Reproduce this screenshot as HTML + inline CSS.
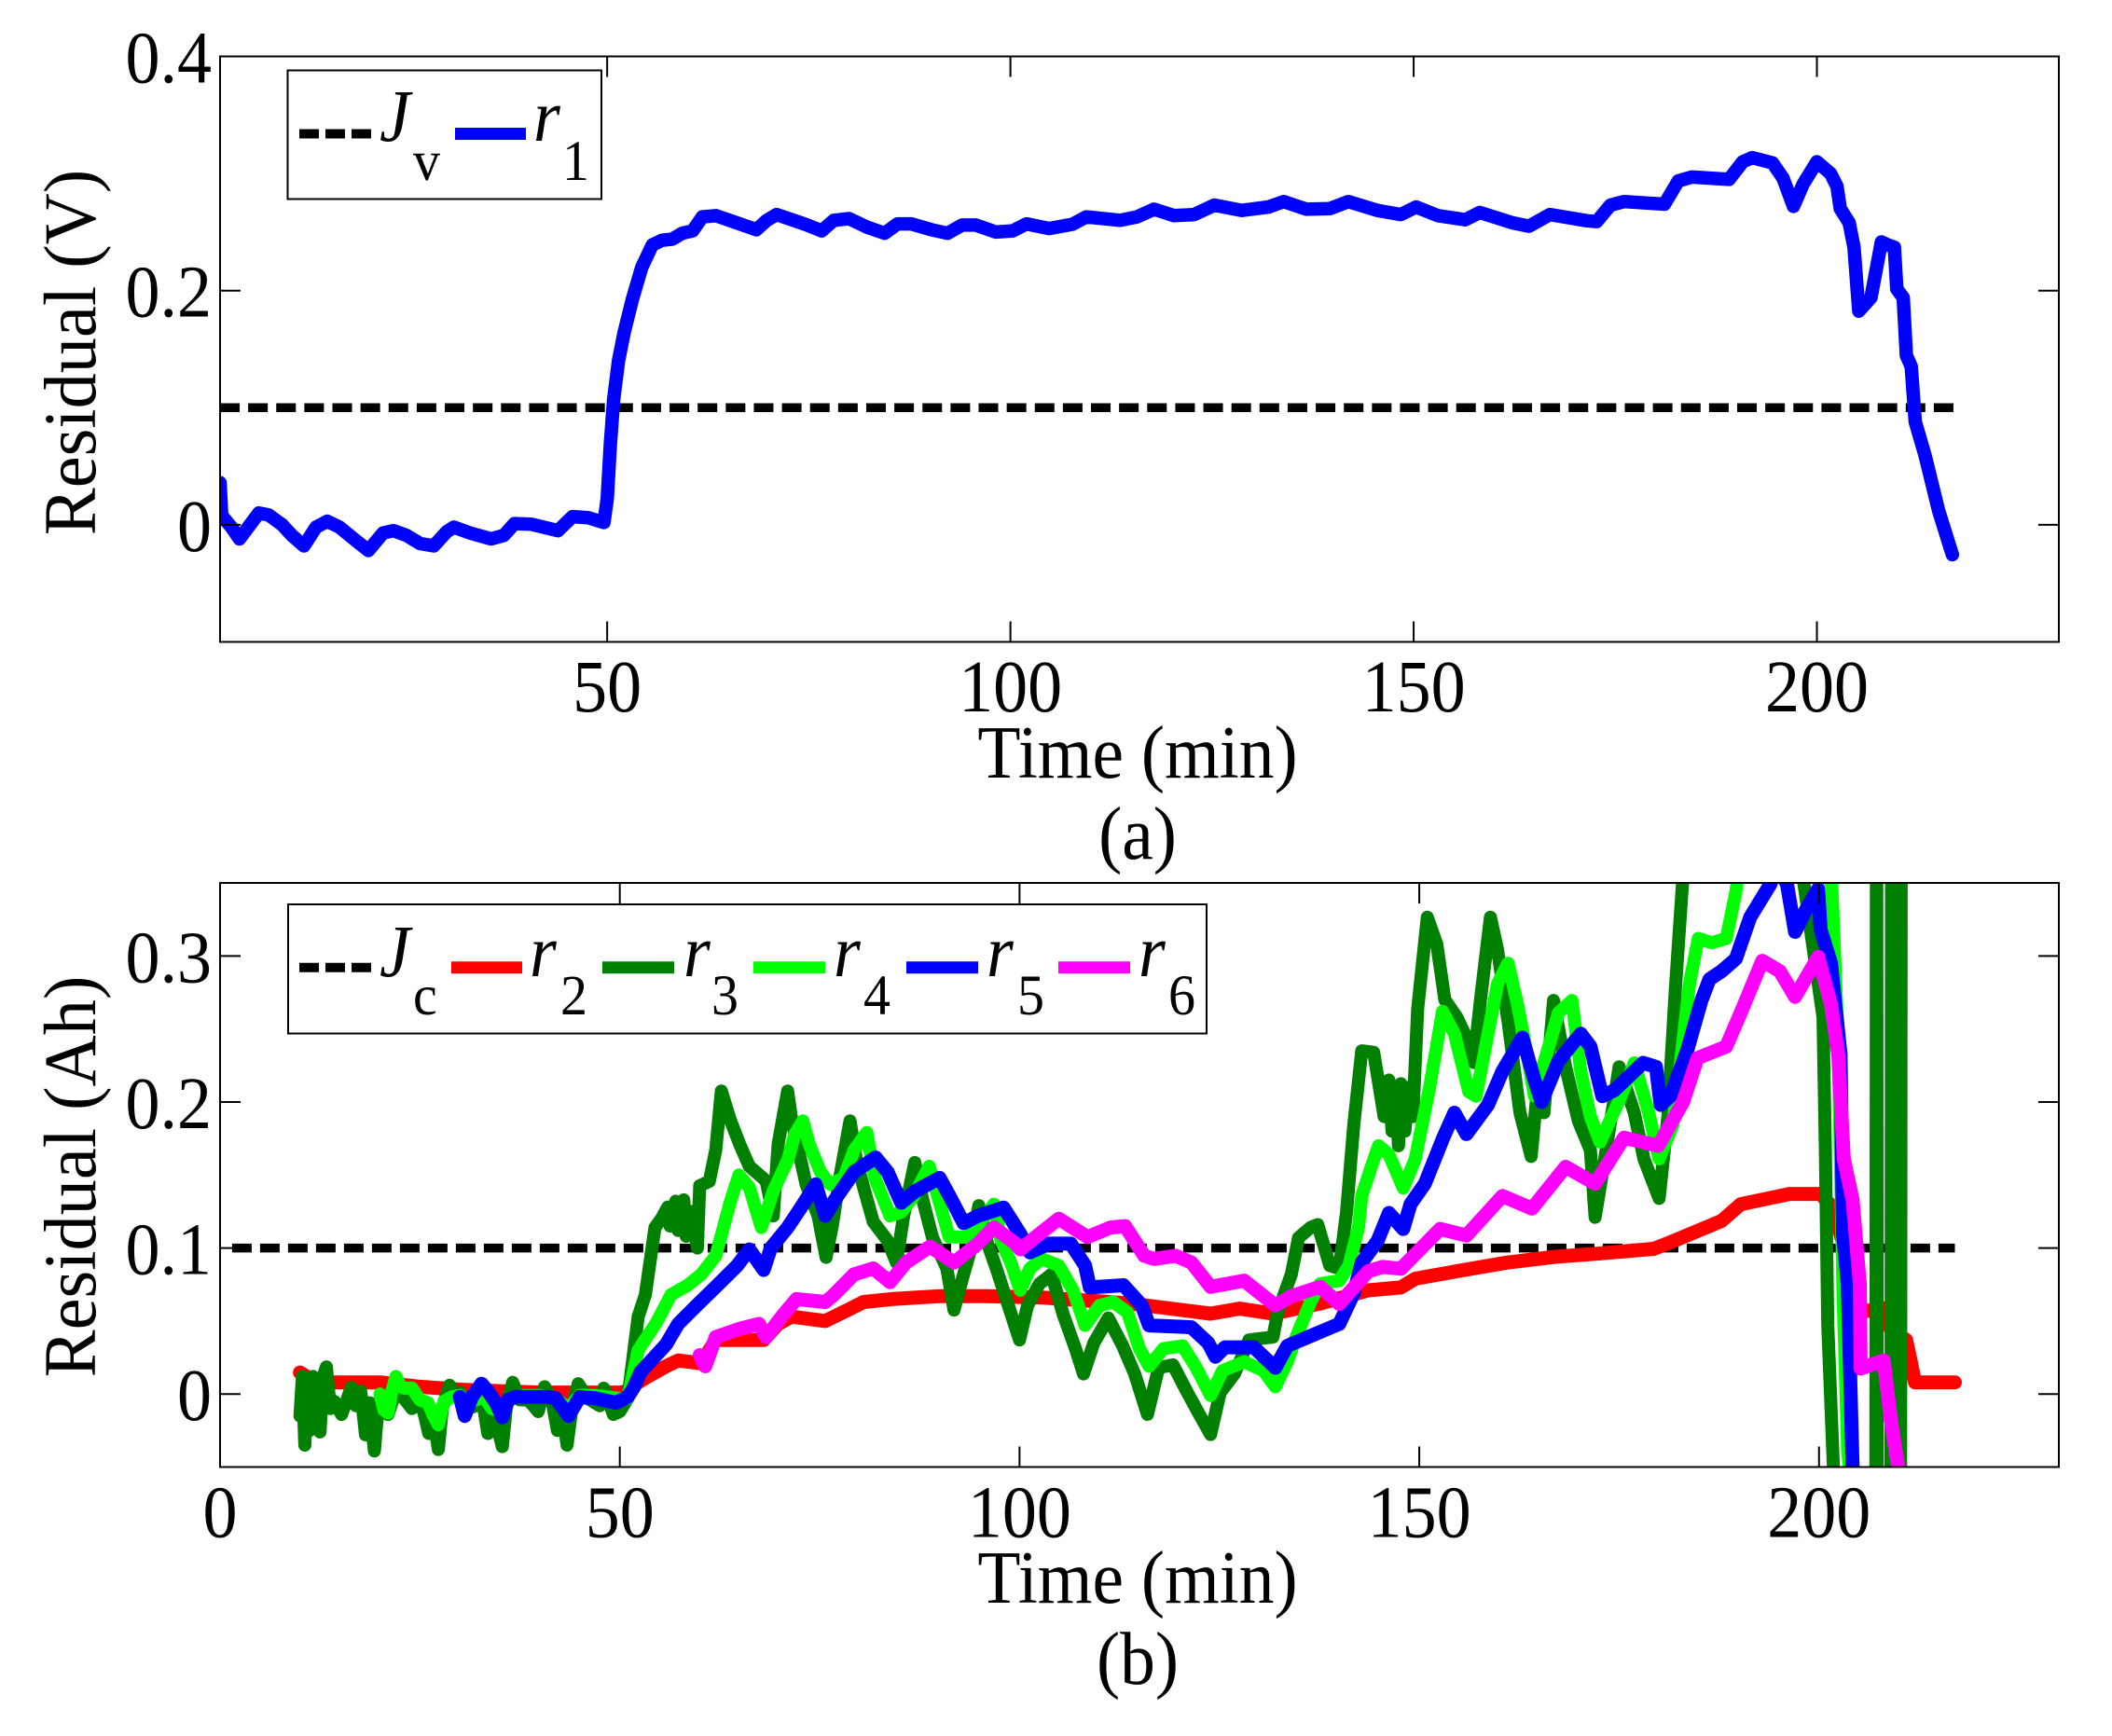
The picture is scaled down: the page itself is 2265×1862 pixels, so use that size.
<!DOCTYPE html>
<html lang="en">
<head>
<meta charset="utf-8">
<title>Residual charts</title>
<style>
html,body{margin:0;padding:0;background:#fff;}
#figure{display:block;width:2265px;height:1862px;background:#fff;}
text{font-family:"Liberation Serif",serif;fill:#000;}
.it{font-style:italic;}
</style>
</head>
<body>
<svg id="figure" xmlns="http://www.w3.org/2000/svg" width="2265" height="1862" viewBox="0 0 2265 1862">
<defs>
<clipPath id="clipA"><rect x="236" y="60.5" width="1972" height="628"/></clipPath>
<clipPath id="clipB"><rect x="236" y="947" width="1972" height="626.5"/></clipPath>
</defs>
<g id="panelA"></g>
<g id="panelB"></g>

<text transform="translate(102,378) scale(1.04,1) rotate(-90)" font-size="76.4" text-anchor="middle">Residual (V)</text>
<text transform="translate(1220,834) scale(1,1.067)" font-size="75.5" text-anchor="middle">Time (min)</text>
<text transform="translate(1220,921) scale(1,1.067)" font-size="75.5" text-anchor="middle">(a)</text>
<text transform="translate(102,1262) scale(1.04,1) rotate(-90)" font-size="76.4" text-anchor="middle">Residual (Ah)</text>
<text transform="translate(1220,1719) scale(1,1.067)" font-size="75.5" text-anchor="middle">Time (min)</text>
<text transform="translate(1220,1806) scale(1,1.067)" font-size="75.5" text-anchor="middle">(b)</text>

<g>
<rect x="308.5" y="75.5" width="336.5" height="138" fill="#fff" stroke="#000" stroke-width="2"/>
<line x1="321" x2="398" y1="143.5" y2="143.5" stroke="#000" stroke-width="10" stroke-dasharray="21 7"/>
<text class="it" transform="translate(407,151) scale(1,1.067)" font-size="74">J</text>
<text transform="translate(443,193) scale(1,1.067)" font-size="58">v</text>
<line x1="488" x2="564" y1="143.5" y2="143.5" stroke="#0000ff" stroke-width="13"/>
<text class="it" transform="translate(572,151) scale(1,1.067)" font-size="74">r</text>
<text transform="translate(603,193) scale(1,1.067)" font-size="58">1</text>
</g>

<g>
<rect x="309" y="970" width="985" height="138.5" fill="#fff" stroke="#000" stroke-width="2"/>
<line x1="321" x2="398" y1="1037.7" y2="1037.7" stroke="#000" stroke-width="10" stroke-dasharray="21 7"/>
<text class="it" transform="translate(407,1047) scale(1,1.067)" font-size="74">J</text>
<text transform="translate(443,1088) scale(1,1.067)" font-size="58">c</text>
<line x1="484" x2="560" y1="1037.7" y2="1037.7" stroke="#ff0000" stroke-width="13"/>
<text class="it" transform="translate(568,1047) scale(1,1.067)" font-size="74">r</text>
<text transform="translate(601,1088) scale(1,1.067)" font-size="58">2</text>
<line x1="646" x2="723" y1="1037.7" y2="1037.7" stroke="#008000" stroke-width="13"/>
<text class="it" transform="translate(733,1047) scale(1,1.067)" font-size="74">r</text>
<text transform="translate(763,1088) scale(1,1.067)" font-size="58">3</text>
<line x1="808" x2="885" y1="1037.7" y2="1037.7" stroke="#00ff00" stroke-width="13"/>
<text class="it" transform="translate(894,1047) scale(1,1.067)" font-size="74">r</text>
<text transform="translate(926,1088) scale(1,1.067)" font-size="58">4</text>
<line x1="972" x2="1049" y1="1037.7" y2="1037.7" stroke="#0000ff" stroke-width="13"/>
<text class="it" transform="translate(1058,1047) scale(1,1.067)" font-size="74">r</text>
<text transform="translate(1091,1088) scale(1,1.067)" font-size="58">5</text>
<line x1="1135" x2="1212" y1="1037.7" y2="1037.7" stroke="#ff00ff" stroke-width="13"/>
<text class="it" transform="translate(1221,1047) scale(1,1.067)" font-size="74">r</text>
<text transform="translate(1253,1088) scale(1,1.067)" font-size="58">6</text>
</g>
</svg>

<script>
// ---- panel (a) data ----
const xTicksA = [50, 100, 150, 200];
const yTicksA = [0, 0.2, 0.4];
const yTickLabelsA = ['0', '0.2', '0.4'];
const jvTime = [2, 217];
const jvValues = [0.1, 0.1];
const r1Time = [
2,2.2,3.4,4.4,5.5,6.8,8,9.7,10.9,12.4,13.9,15.3,16.8,18.4,20.4,22.2,23.5,25.1,26.8,28.5,
30.1,31,33,35.6,37.2,38.5,40.6,43.9,45.7,47.7,49.6,50,50.4,50.8,51.4,52.1,53.1,54.3,55.6,56.8,
58.1,59.3,60.6,61.8,63.5,65.6,68.5,69.8,71,73.1,74.8,76.6,78.1,80,82.3,84.4,86,87.7,90.2,92.2,
94,95.7,98.2,100.3,102,104.8,107.7,109.4,113.6,115.7,117.8,120.3,122.8,125.3,128.7,132,133.9,136.7,139.6,141.9,
145.5,148.4,150.3,153,156.4,158.2,162.2,164.3,166.9,171.5,172.7,174.4,176.1,181.1,182.8,184.5,189.1,190.8,192,194.5,
195.8,197.1,198.3,200,201.7,202.5,202.9,204,204.6,205.2,206.7,208,208.8,209.6,209.9,210.7,211.1,211.7,212.2,213.4,
215.1,216.8];
const r1Values = [
.036,.008,-.002,-.012,-.002,.01,.0085,0,-.009,-.018,-.002,.003,-.002,-.011,-.022,-.007,-.005,-.009,-.016,-.018,
-.006,-.002,-.007,-.012,-.009,.001,.0005,-.005,.007,.006,.002,.022,.069,.107,.14,.164,.192,.22,.239,.243,
.244,.249,.251,.263,.264,.259,.252,.26,.265,.26,.256,.251,.26,.2615,.254,.249,.257,.257,.252,.249,
.256,.256,.25,.251,.257,.253,.2567,.263,.26,.263,.2695,.264,.265,.273,.2685,.2714,.276,.2695,.27,.276,
.2685,.265,.2714,.264,.2605,.2667,.258,.255,.265,.2596,.259,.273,.276,.2738,.2936,.297,.295,.31,.3135,.309,
.296,.272,.291,.31,.3,.289,.27,.258,.237,.1825,.194,.2416,.239,.237,.2014,.194,.1447,.135,.088,.0596,
.012,-.0255];

// ---- panel (b) data ----
const xTicksB = [0, 50, 100, 150, 200];
const yTicksB = [0, 0.1, 0.2, 0.3];
const yTickLabelsB = ['0', '0.1', '0.2', '0.3'];
const jcTime = [1.5, 217];
const jcValues = [0.1, 0.1];
const r2Time = [
10,12,16,20,25,30,35,40,45,50,51,52.3,53.5,55.8,57.3,60.2,62,68,69.8,71.5,
75.7,78.7,80.5,84,90,96,103,113.8,123.9,127.5,131.7,137.6,143.6,147.7,149.5,155.6,161,167,172,179.3,
181,187.8,190.2,196.3,200.2,201.8,202.5,205.4,208.1,209,210.9,211.5,212,217];
const r2Values = [
.0147,.008,.008,.008,.005,.003,.002,.001,.001,.001,.002,.008,.012,.019,.023,.021,.037,.037,.048,.053,
.05,.058,.063,.065,.067,.067,.066,.062,.055,.0585,.055,.062,.071,.073,.079,.085,.09,.094,.096,.0994,
.103,.1185,.13,.137,.137,.127,.113,.0564,.0587,.044,.037,.0216,.008,.008];
const r3Time = [
10,10.3,10.6,10.9,11.2,11.6,12,12.5,12.9,13.3,
13.8,14.3,15.2,15.8,16.4,17,17.6,18.2,18.7,19.3,
19.6,20,21,22,23,24,25,25.6,26.1,26.6,
27.3,27.8,28.7,29.5,30,31,32,32.8,33.5,34.2,
35.3,35.8,36.6,37.5,38.5,39.2,39.8,40.6,41.5,42.2,
42.8,43.4,44,44.8,46,47.5,48,49.2,50,51,
52.3,53.2,54.4,55.2,56,56.3,57,57.3,58,58.3,
59,59.7,60,61.2,62,62.7,63.8,65,66.2,68.3,69.2,69.8,71,
71.5,73.3,74.8,75.8,76.6,77.5,78.8,79.6,80.5,81.7,83.5,84.6,85.5,86.9,87.9,89.1,90.9,91.8,93,93.9,
94.9,96,97.1,98.6,100,101,102.5,104,105.5,107,108,109.3,111.1,112.9,114.4,116,117.4,119.2,121,122.7,
123.9,125.1,126.9,128.7,131.7,132.3,134,134.9,136.4,137.3,138.8,140,140.9,141.8,142.8,144.3,145.6,146.2,146.6,147,147.4,147.7,148.2,148.7,149.2,
149.8,151,152.2,153.2,154.7,155.9,156.8,157.7,158.9,159.8,161.1,162.6,164,164.7,165.6,166.8,168.3,169.9,171.4,172,
173.2,175,176.9,178.1,180,181.1,182,182.9,184,188,192,196,198.1,200.5,200.8,201.1,201.8,204,207.1,207.2,
207.3,209,209.1,209.2,210.2,210.3,210.4];
const r3Values = [
-.015,.012,-.035,.01,-.025,.012,-.02,-.026,.012,.0185,
-.01,-.005,-.014,-.005,.0045,-.008,.002,-.028,-.006,-.039,
-.02,-.003,-.014,.002,-.003,-.01,-.004,-.015,-.027,-.012,
-.038,-.01,.006,-.002,.001,-.01,-.008,-.003,-.027,-.012,
-.036,-.01,.008,-.004,-.004,-.008,-.012,.005,-.004,-.025,
-.01,-.035,-.01,.007,-.003,-.008,.004,-.014,-.012,-.003,
.053,.068,.114,.12,.128,.115,.132,.112,.133,.108,
.125,.1,.1426,.1457,.167,.2075,.188,.171,.156,.146,.122,.171,.2075,
.188,.1436,.122,.0936,.116,.148,.187,.16,.1415,.118,.105,.09,.122,.1585,.133,.1075,.086,.0575,.082,.099,
.129,.103,.086,.0606,.037,.0606,.0755,.082,.054,.031,.0138,.035,.052,.033,.0138,-.0139,.018,.02,.001,-.016,
-.0277,.001,.014,.037,.039,.056,.082,.107,.114,.116,.088,.086,.1245,.184,.235,.234,.19,.215,.18,.21,.17,.2125,.18,.21,.19,
.264,.3265,.308,.27,.258,.244,.227,.272,.3265,.304,.255,.1926,.1627,.204,.1926,.2695,.224,.187,.167,.121,
.161,.224,.1926,.161,.134,.19,.275,.348,.4,.42,.41,.38,.35,.258,.167,.047,-.05,-.12,-.12,.5,
-.12,-.12,.5,-.12,-.12,.5,.5];
const r4Time = [
20,20.5,21,21.5,22,22.5,23,24,25,26,26.6,27.3,28,29,30,31,33,34,35,36,
38,40,42,43.5,45,47,50,51,52.3,54.6,56.4,58.5,60.2,62,63.8,64.9,66.2,67.7,69.2,71,71.9,72.9,
73.7,75.1,76.3,78,79.3,80.9,81.9,83.8,85.2,86.7,88.7,89.9,91.2,93.6,95.4,96.8,97.7,98.9,100.1,101.3,
102.8,104.9,106.7,108.2,110,111.7,113.5,115,116.2,118,120.4,122.1,123.9,125.4,128.1,130.5,132,133.5,134.6,136.4,
137.6,140,141.2,142.4,142.8,144,144.9,146.2,148,149.5,151.3,152.9,154.4,156.2,157.1,158.6,159.8,161.1,162.3,163.5,
164.4,165.6,167.4,169.1,170.2,171.4,172.6,175,176.9,178.7,180,181.7,182.9,183.8,184.9,186.6,188.4,189.6,190.2,195,
201.6,202.4,203,203.6,204,205];
const r4Values = [
0,-.011,-.013,.002,.012,.006,.004,.004,-.004,-.006,-.014,-.021,-.005,-.002,-.001,-.006,-.002,-.01,-.012,-.004,
-.001,-.001,-.003,-.01,-.001,-.001,-.003,-.003,.03,.049,.068,.0745,.082,.0947,.131,.15,.1415,.114,.139,.16,.178,.187,
.171,.152,.1436,.148,.167,.179,.148,.122,.1245,.135,.156,.133,.1075,.1075,.12,.13,.105,.09,.071,.086,
.0925,.088,.071,.047,.0606,.063,.056,.031,.019,.031,.033,.018,-.001,.016,.022,.016,.005,.022,.039,.063,
.0755,.0776,.088,.114,.1356,.1556,.17,.164,.141,.161,.21,.262,.2467,.207,.204,.2467,.281,.295,.2667,.2325,
.204,.2268,.261,.2695,.221,.19,.1726,.201,.2268,.1926,.161,.184,.238,.281,.312,.309,.312,.3436,.37,.42,
.349,.238,.07,-.04,-.06,-.09];
const r5Time = [
30,30.6,31.5,32.7,33.5,34.5,35.3,36,37,39,41,42,43.6,45,47,49.5,51,51.7,52.6,55.8,57.3,59.6,
62,64.7,66.2,68,68.9,71,72.7,74.5,75.7,76.9,79.3,82,83.5,85.2,87,90,91.5,93,94.8,98,
100.1,101.3,103.7,106.4,108.2,108.8,113,115.3,116.2,121.5,123.6,124.5,125.7,129.3,132,133.5,137.6,140,141.8,142.8,
144.8,146.2,148,148.9,150.7,153,154.4,155.9,158.6,160.4,162.9,164.4,165.3,167.4,170.2,171.4,172.9,174.4,178,179.6,
180.2,181.4,183.5,185.3,186.3,187.8,189.6,191.4,193.9,194.8,196,197,198.4,199.9,200.2,201.5,202.7,203,203.6,204.2,
205];
const r5Values = [
-.002,-.015,-.002,.007,.002,-.006,-.016,-.004,-.002,-.002,-.002,-.003,-.015,-.002,-.003,-.006,-.002,.004,.015,.034,.048,.0606,
.0734,.088,.099,.085,.1,.114,.128,.1436,.122,.133,.152,.162,.152,.131,.139,.148,.133,.117,.122,.1277,
.1096,.097,.103,.103,.088,.073,.0745,.0606,.047,.0457,.035,.0255,.032,.032,.018,.033,.0425,.048,.069,.09,
.105,.124,.113,.13,.144,.1755,.1926,.178,.198,.221,.244,.215,.2,.228,.2467,.238,.204,.208,.2268,.224,
.198,.204,.235,.2695,.284,.2895,.298,.3265,.349,.363,.349,.3165,.332,.346,.318,.295,.2325,.11,.0758,-.05,
-.09];
const r6Time = [
60,60.7,62,65,67.4,68.3,70.4,72.1,75.7,76.6,79.3,81.7,83.8,85.8,88.8,91.8,94.8,96.8,99.5,100.1,
102.5,104.9,108.5,111.4,113.2,115.6,116.8,119.5,121.5,123.9,128.1,132,134,137.6,140,143.6,145.4,147.7,152.6,155.9,
160.4,164.1,168.3,172,175.6,179.9,183,184.8,188.4,190.2,192.9,195.1,197,199.9,201.5,202.4,203.1,204.2,205.1,205.2,
208.1,209,209.9,210.4];
const r6Values = [
.0266,.019,.039,.0447,.048,.039,.054,.065,.063,.067,.082,.086,.0766,.09,.101,.09,.103,.114,.103,.099,
.1096,.12,.1075,.114,.115,.0947,.0925,.0947,.09,.0734,.0776,.0606,.067,.0734,.0617,.084,.087,.0858,.113,.1085,
.1356,.127,.1556,.144,.1755,.17,.2,.23,.238,.261,.2966,.2895,.272,.2994,.2667,.2325,.161,.133,.0758,.0174,
.023,-.018,-.05,-.08];

// ---- axis functions ----
const left = 236, right = 2208;
const svgNS = 'http://www.w3.org/2000/svg';
function make(tag, attrs, parent) {
  const el = document.createElementNS(svgNS, tag);
  for (const k in attrs) el.setAttribute(k, attrs[k]);
  parent.appendChild(el);
  return el;
}
function scaler(d0, d1, r0, r1) {
  return v => r0 + (v - d0) * (r1 - r0) / (d1 - d0);
}
const xA = scaler(2, 230, left, right);
const yA = scaler(-0.1, 0.4, 688.5, 60.5);
const xB = scaler(0, 230, left, right);
const yB = scaler(-0.05, 0.35, 1573.5, 947);

function pathFrom(times, values, sx, sy) {
  let d = '';
  for (let i = 0; i < times.length; i++) {
    d += (i ? 'L' : 'M') + sx(times[i]).toFixed(1) + ' ' + sy(values[i]).toFixed(1);
  }
  return d;
}
function drawSeries(parent, name, times, values, sx, sy, clip, color, width, dash) {
  const p = make('path', {
    d: pathFrom(times, values, sx, sy),
    fill: 'none',
    stroke: color,
    'stroke-width': width,
    'stroke-linejoin': 'round',
    'clip-path': 'url(#' + clip + ')'
  }, parent);
  if (dash) p.setAttribute('stroke-dasharray', dash);
  else p.setAttribute('stroke-linecap', 'round');
  
  
  return p;
}
function drawAxes(parent, top, bottom, sx, sy, xTicks, yTicks, yLabels, xBase) {
  const frame = make('rect', {x: left, y: top, width: right - left, height: bottom - top, fill: 'none', stroke: '#000', 'stroke-width': 2}, parent);
  
  
  xTicks.forEach(v => {
    const x = sx(v);
    const t1 = make('line', {x1: x, x2: x, y1: bottom, y2: bottom - 22, stroke: '#000', 'stroke-width': 2}, parent);
    
    
    const t2 = make('line', {x1: x, x2: x, y1: top, y2: top + 22, stroke: '#000', 'stroke-width': 2}, parent);
    
    
    const lab = make('text', {transform: 'translate(' + x + ',' + xBase + ') scale(1,1.067)', 'font-size': 74, 'text-anchor': 'middle'}, parent);
    lab.textContent = String(v);
    
    
  });
  yTicks.forEach((v, i) => {
    const y = sy(v);
    const t1 = make('line', {x1: left, x2: left + 22, y1: y, y2: y, stroke: '#000', 'stroke-width': 2}, parent);
    
    
    const t2 = make('line', {x1: right, x2: right - 22, y1: y, y2: y, stroke: '#000', 'stroke-width': 2}, parent);
    
    
    const lab = make('text', {transform: 'translate(227,' + (y + 28) + ') scale(1,1.067)', 'font-size': 74, 'text-anchor': 'end'}, parent);
    lab.textContent = yLabels[i];
    
    
  });
}

const panelA = document.getElementById('panelA');
const panelB = document.getElementById('panelB');
drawSeries(panelA, 'threshold-jv-line', jvTime, jvValues, xA, yA, 'clipA', '#000', 9.5, '21 9.13');
drawSeries(panelA, 'series-r1', r1Time, r1Values, xA, yA, 'clipA', '#0000ff', 14.5);
drawAxes(panelA, 60.5, 688.5, xA, yA, xTicksA, yTicksA, yTickLabelsA, 763);

drawSeries(panelB, 'threshold-jc-line', jcTime, jcValues, xB, yB, 'clipB', '#000', 9.5, '21 9');
drawSeries(panelB, 'series-r2', r2Time, r2Values, xB, yB, 'clipB', '#ff0000', 15);
drawSeries(panelB, 'series-r3', r3Time, r3Values, xB, yB, 'clipB', '#008000', 14);
drawSeries(panelB, 'series-r4', r4Time, r4Values, xB, yB, 'clipB', '#00ff00', 14);
drawSeries(panelB, 'series-r5', r5Time, r5Values, xB, yB, 'clipB', '#0000ff', 15);
drawSeries(panelB, 'series-r6', r6Time, r6Values, xB, yB, 'clipB', '#ff00ff', 15);
drawAxes(panelB, 947, 1573.5, xB, yB, xTicksB, yTicksB, yTickLabelsB, 1648.5);
</script>
</body>
</html>
